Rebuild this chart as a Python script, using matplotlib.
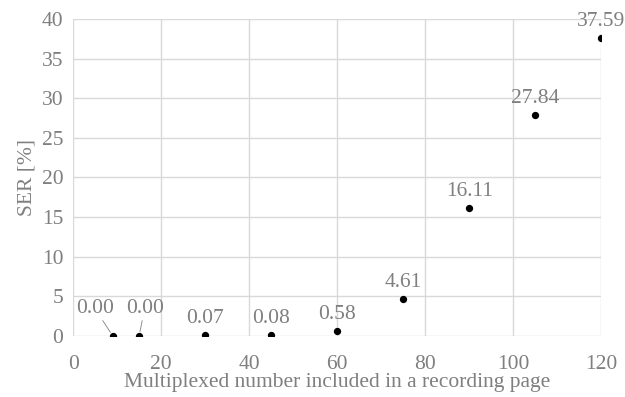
import matplotlib
matplotlib.use('agg')
import matplotlib.pyplot as plt

mux = [9, 15, 30, 45, 60, 75, 90, 105, 120]
ser = [0.00, 0.00, 0.07, 0.08, 0.58, 4.61, 16.11, 27.84, 37.59]
labels = ['0.00', '0.00', '0.07', '0.08', '0.58', '4.61', '16.11', '27.84', '37.59']

GRAY = '#7f7f7f'
FS = 15.5
plt.rcParams['font.family'] = ['Liberation Serif', 'DejaVu Serif']

fig = plt.figure(figsize=(6.25, 3.97), dpi=100)
ax = fig.add_axes([0.117, 0.154, 0.845, 0.798])
ax.scatter(mux, ser, s=18, color='black', zorder=3)

ax.set_xlim(0, 120)
ax.set_ylim(0, 40)
ax.set_xticks(range(0, 121, 20))
ax.set_yticks(range(0, 41, 5))
ax.grid(True, color='#d9d9d9', linewidth=1)
ax.set_axisbelow(True)
for s in ax.spines.values():
    s.set_visible(False)
ax.tick_params(length=0, labelsize=FS, labelcolor=GRAY)
ax.tick_params(axis='x', pad=14)
ax.tick_params(axis='y', pad=7)

ax.set_xlabel('Multiplexed number included in a recording page', fontsize=FS, color=GRAY, labelpad=-1)
ax.set_ylabel('SER [%]', fontsize=FS, color=GRAY, labelpad=4)

# first two labels are pulled out with leader lines
ax.annotate(labels[0], (mux[0], ser[0]), xytext=(-13, 13), textcoords='offset points',
            ha='center', va='bottom', fontsize=FS, color=GRAY,
            arrowprops=dict(arrowstyle='-', color=GRAY, lw=0.6, shrinkA=0, shrinkB=3))
ax.annotate(labels[1], (mux[1], ser[1]), xytext=(4, 13), textcoords='offset points',
            ha='center', va='bottom', fontsize=FS, color=GRAY,
            arrowprops=dict(arrowstyle='-', color=GRAY, lw=0.6, shrinkA=0, shrinkB=3))
for x, y, t in zip(mux[2:], ser[2:], labels[2:]):
    ax.annotate(t, (x, y), xytext=(0, 5), textcoords='offset points',
                ha='center', va='bottom', fontsize=FS, color=GRAY, clip_on=False)

fig.savefig('out.png', dpi=100)
